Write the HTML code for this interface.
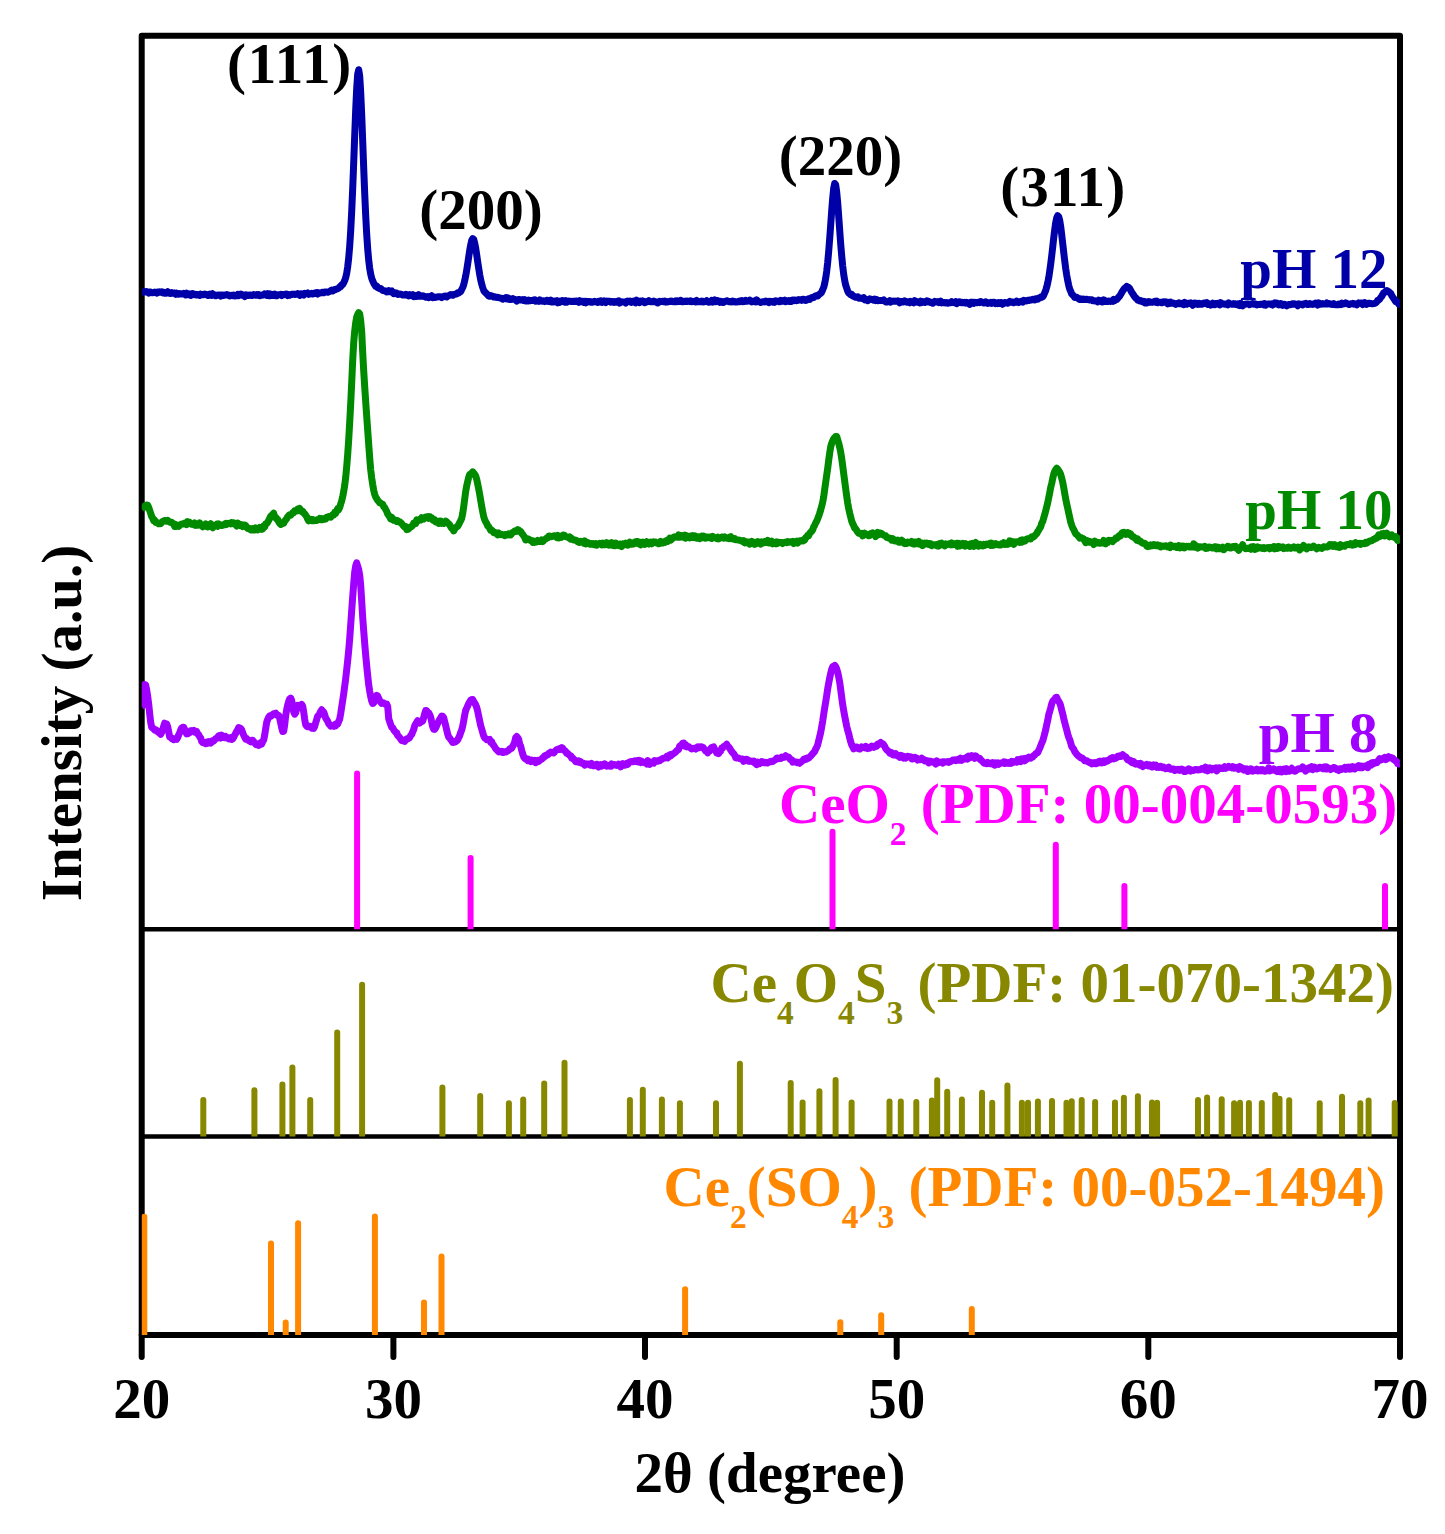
<!DOCTYPE html><html><head><meta charset="utf-8"><style>html,body{margin:0;padding:0;background:#fff;overflow:hidden}svg{display:block}</style></head><body><svg width="1445" height="1534" viewBox="0 0 1445 1534"><defs><clipPath id="c0"><rect x="141.7" y="0" width="1258.3" height="1534"/></clipPath><clipPath id="c1"><rect x="141.7" y="35.8" width="1258.3" height="893.5"/></clipPath><clipPath id="c2"><rect x="141.7" y="929.3" width="1258.3" height="207.2"/></clipPath><clipPath id="c3"><rect x="141.7" y="1136.5" width="1258.3" height="198.5"/></clipPath></defs><rect width="1445" height="1534" fill="#fff"/><rect x="141.7" y="35.8" width="1258.3" height="1299.2" fill="none" stroke="#000" stroke-width="6" stroke-linejoin="round"/><g stroke="#000" stroke-width="6" stroke-linecap="round"><line x1="141.7" y1="1335" x2="141.7" y2="1357"/><line x1="393.4" y1="1335" x2="393.4" y2="1357"/><line x1="645.0" y1="1335" x2="645.0" y2="1357"/><line x1="896.7" y1="1335" x2="896.7" y2="1357"/><line x1="1148.3" y1="1335" x2="1148.3" y2="1357"/><line x1="1400.0" y1="1335" x2="1400.0" y2="1357"/></g><g stroke="#000"><line x1="141.7" y1="929.3" x2="1400" y2="929.3" stroke-width="4.4"/><line x1="141.7" y1="1136.5" x2="1400" y2="1136.5" stroke-width="4.5"/></g><g clip-path="url(#c1)"><g stroke="#FF00FF" stroke-width="6" stroke-linecap="round"><line x1="357.1" y1="773.4" x2="357.1" y2="932.3"/><line x1="470.6" y1="858.0" x2="470.6" y2="932.3"/><line x1="832.5" y1="831.8" x2="832.5" y2="932.3"/><line x1="1055.8" y1="844.8" x2="1055.8" y2="932.3"/><line x1="1124.4" y1="885.9" x2="1124.4" y2="932.3"/><line x1="1385.0" y1="885.9" x2="1385.0" y2="932.3"/></g></g><g clip-path="url(#c2)"><g stroke="#888800" stroke-width="6" stroke-linecap="round"><line x1="203.3" y1="1100.1" x2="203.3" y2="1139.5"/><line x1="254.4" y1="1090.3" x2="254.4" y2="1139.5"/><line x1="282.4" y1="1084.5" x2="282.4" y2="1139.5"/><line x1="292.4" y1="1067.5" x2="292.4" y2="1139.5"/><line x1="310.2" y1="1100.1" x2="310.2" y2="1139.5"/><line x1="337.2" y1="1032.6" x2="337.2" y2="1139.5"/><line x1="362.1" y1="984.8" x2="362.1" y2="1139.5"/><line x1="442.4" y1="1087.6" x2="442.4" y2="1139.5"/><line x1="480.2" y1="1095.9" x2="480.2" y2="1139.5"/><line x1="508.9" y1="1103.2" x2="508.9" y2="1139.5"/><line x1="523.2" y1="1099.5" x2="523.2" y2="1139.5"/><line x1="544.2" y1="1083.5" x2="544.2" y2="1139.5"/><line x1="564.5" y1="1062.7" x2="564.5" y2="1139.5"/><line x1="629.9" y1="1100.1" x2="629.9" y2="1139.5"/><line x1="642.8" y1="1089.7" x2="642.8" y2="1139.5"/><line x1="661.9" y1="1099.5" x2="661.9" y2="1139.5"/><line x1="679.9" y1="1103.2" x2="679.9" y2="1139.5"/><line x1="716.0" y1="1103.2" x2="716.0" y2="1139.5"/><line x1="739.9" y1="1063.8" x2="739.9" y2="1139.5"/><line x1="790.7" y1="1082.9" x2="790.7" y2="1139.5"/><line x1="802.6" y1="1102.6" x2="802.6" y2="1139.5"/><line x1="819.4" y1="1091.2" x2="819.4" y2="1139.5"/><line x1="835.6" y1="1080.0" x2="835.6" y2="1139.5"/><line x1="851.6" y1="1102.6" x2="851.6" y2="1139.5"/><line x1="889.5" y1="1101.5" x2="889.5" y2="1139.5"/><line x1="900.8" y1="1101.5" x2="900.8" y2="1139.5"/><line x1="916.3" y1="1102.1" x2="916.3" y2="1139.5"/><line x1="931.9" y1="1100.6" x2="931.9" y2="1139.5"/><line x1="937.2" y1="1080.2" x2="937.2" y2="1139.5"/><line x1="947.2" y1="1091.7" x2="947.2" y2="1139.5"/><line x1="961.9" y1="1099.5" x2="961.9" y2="1139.5"/><line x1="982.0" y1="1092.7" x2="982.0" y2="1139.5"/><line x1="992.2" y1="1102.7" x2="992.2" y2="1139.5"/><line x1="1007.4" y1="1085.6" x2="1007.4" y2="1139.5"/><line x1="1021.9" y1="1102.7" x2="1021.9" y2="1139.5"/><line x1="1028.0" y1="1102.7" x2="1028.0" y2="1139.5"/><line x1="1037.9" y1="1101.6" x2="1037.9" y2="1139.5"/><line x1="1052.0" y1="1100.9" x2="1052.0" y2="1139.5"/><line x1="1066.5" y1="1102.7" x2="1066.5" y2="1139.5"/><line x1="1071.7" y1="1101.2" x2="1071.7" y2="1139.5"/><line x1="1081.7" y1="1100.1" x2="1081.7" y2="1139.5"/><line x1="1095.1" y1="1101.9" x2="1095.1" y2="1139.5"/><line x1="1115.0" y1="1102.4" x2="1115.0" y2="1139.5"/><line x1="1123.9" y1="1097.8" x2="1123.9" y2="1139.5"/><line x1="1137.9" y1="1096.3" x2="1137.9" y2="1139.5"/><line x1="1152.0" y1="1102.4" x2="1152.0" y2="1139.5"/><line x1="1157.1" y1="1102.8" x2="1157.1" y2="1139.5"/><line x1="1198.0" y1="1099.9" x2="1198.0" y2="1139.5"/><line x1="1207.1" y1="1097.4" x2="1207.1" y2="1139.5"/><line x1="1221.7" y1="1099.2" x2="1221.7" y2="1139.5"/><line x1="1234.1" y1="1103.2" x2="1234.1" y2="1139.5"/><line x1="1240.0" y1="1102.7" x2="1240.0" y2="1139.5"/><line x1="1248.9" y1="1103.0" x2="1248.9" y2="1139.5"/><line x1="1261.8" y1="1103.0" x2="1261.8" y2="1139.5"/><line x1="1275.2" y1="1095.0" x2="1275.2" y2="1139.5"/><line x1="1279.5" y1="1098.7" x2="1279.5" y2="1139.5"/><line x1="1289.2" y1="1100.3" x2="1289.2" y2="1139.5"/><line x1="1319.7" y1="1103.2" x2="1319.7" y2="1139.5"/><line x1="1342.0" y1="1096.8" x2="1342.0" y2="1139.5"/><line x1="1360.3" y1="1103.2" x2="1360.3" y2="1139.5"/><line x1="1368.6" y1="1100.6" x2="1368.6" y2="1139.5"/><line x1="1394.7" y1="1103.0" x2="1394.7" y2="1139.5"/></g></g><g clip-path="url(#c3)"><g stroke="#FF8800" stroke-width="6" stroke-linecap="round"><line x1="144.3" y1="1216.7" x2="144.3" y2="1338.0"/><line x1="271.0" y1="1243.4" x2="271.0" y2="1338.0"/><line x1="285.7" y1="1322.6" x2="285.7" y2="1338.0"/><line x1="298.1" y1="1223.3" x2="298.1" y2="1338.0"/><line x1="374.9" y1="1216.5" x2="374.9" y2="1338.0"/><line x1="424.0" y1="1302.5" x2="424.0" y2="1338.0"/><line x1="441.5" y1="1256.5" x2="441.5" y2="1338.0"/><line x1="685.1" y1="1289.2" x2="685.1" y2="1338.0"/><line x1="840.3" y1="1322.3" x2="840.3" y2="1338.0"/><line x1="881.2" y1="1315.3" x2="881.2" y2="1338.0"/><line x1="971.8" y1="1309.1" x2="971.8" y2="1338.0"/></g></g><g clip-path="url(#c0)" fill="none" stroke-width="7" stroke-linejoin="round" stroke-linecap="butt"><path stroke="#0000A8" d="M141.7,291.9L142.7,292.1 143.7,291.9 144.7,291.5 145.7,291.9 146.7,291.6 147.7,292.3 148.7,293.1 149.7,292.1 150.7,292.0 151.7,292.7 152.7,292.7 153.7,292.6 154.7,292.1 155.7,292.6 156.7,293.1 157.7,292.0 158.7,292.5 159.7,291.8 160.7,292.2 161.7,291.9 162.7,292.9 163.7,292.3 164.7,293.3 165.7,293.3 166.7,293.1 167.7,291.8 168.7,293.0 169.7,293.3 170.7,293.5 171.7,292.6 172.7,293.2 173.7,293.0 174.7,293.1 175.7,294.3 176.7,293.2 177.7,293.7 178.7,294.3 179.7,293.5 180.7,293.8 181.7,294.0 182.7,294.0 183.7,293.3 184.7,294.1 185.7,294.9 186.7,293.2 187.7,294.7 188.7,294.3 189.7,293.9 190.7,295.4 191.7,294.8 192.7,293.6 193.7,294.4 194.7,294.8 195.7,294.3 196.7,294.9 197.7,294.5 198.7,295.0 199.7,295.4 200.7,294.2 201.7,294.8 202.7,294.4 203.7,294.8 204.7,294.0 205.7,294.4 206.7,294.7 207.7,295.4 208.7,295.5 209.7,294.1 210.7,294.4 211.7,295.3 212.7,293.8 213.7,294.7 214.7,294.9 215.7,295.8 216.7,295.5 217.7,294.9 218.7,294.9 219.7,295.0 220.7,296.0 221.7,294.9 222.7,295.0 223.7,295.4 224.7,295.1 225.7,295.1 226.7,294.5 227.7,295.2 228.7,295.0 229.7,295.9 230.7,295.6 231.7,295.2 232.7,295.7 233.7,295.1 234.7,295.9 235.7,295.3 236.7,295.6 237.7,294.5 238.7,295.5 239.7,294.3 240.7,294.1 241.7,295.1 242.7,294.7 243.7,295.4 244.7,296.6 245.7,294.8 246.7,294.9 247.7,295.4 248.7,295.5 249.7,295.1 250.7,295.1 251.7,295.6 252.7,295.5 253.7,294.6 254.7,295.1 255.7,295.2 256.7,294.6 257.7,295.3 258.7,294.7 259.7,295.7 260.7,295.3 261.7,295.2 262.7,294.8 263.7,295.0 264.7,293.9 265.7,294.4 266.7,295.3 267.7,293.8 268.7,295.6 269.7,294.0 270.7,295.5 271.7,294.5 272.7,295.5 273.7,295.1 274.7,294.1 275.7,295.7 276.7,295.8 277.7,294.9 278.7,294.7 279.7,294.8 280.7,294.3 281.7,295.5 282.7,294.5 283.7,294.8 284.7,294.3 285.7,294.4 286.7,294.0 287.7,295.5 288.7,294.6 289.7,295.2 290.7,294.6 291.7,294.2 292.7,294.4 293.7,294.2 294.7,294.5 295.7,294.3 296.7,294.3 297.7,293.6 298.7,293.9 299.7,295.3 300.7,293.9 301.7,293.7 302.7,294.4 303.7,295.0 304.7,293.3 305.7,294.0 306.7,293.7 307.7,293.0 308.7,294.3 309.7,293.8 310.7,293.8 311.7,293.3 312.7,293.9 313.7,293.3 314.7,293.4 315.7,292.8 316.7,292.6 317.7,294.0 318.7,292.8 319.7,293.1 320.7,292.8 321.7,292.5 322.7,292.3 323.7,292.8 324.7,292.1 325.7,292.0 326.7,291.9 327.7,292.3 328.7,291.8 329.7,291.5 330.7,290.7 331.7,290.0 332.7,290.9 333.7,290.5 334.7,289.6 335.7,289.5 336.7,289.1 337.7,288.6 338.7,288.1 339.7,286.8 340.7,286.8 341.7,284.8 342.7,284.4 343.7,282.7 344.7,280.6 345.7,277.7 346.7,273.2 347.7,266.7 348.7,258.0 349.7,246.3 350.7,230.8 351.7,211.4 352.7,188.4 353.7,162.6 354.7,135.6 355.7,109.9 356.7,88.3 357.7,74.0 358.7,69.7 359.7,76.1 360.7,92.1 361.7,114.9 362.7,141.1 363.7,168.0 364.7,193.4 365.7,215.7 366.7,234.3 367.7,249.0 368.7,260.2 369.7,268.3 370.7,274.1 371.7,278.3 372.7,280.9 373.7,283.2 374.7,284.7 375.7,286.4 376.7,286.1 377.7,287.8 378.7,288.0 379.7,288.7 380.7,288.5 381.7,289.5 382.7,290.4 383.7,290.4 384.7,290.9 385.7,291.0 386.7,292.0 387.7,291.7 388.7,290.8 389.7,291.8 390.7,291.4 391.7,290.9 392.7,292.6 393.7,293.7 394.7,293.3 395.7,292.8 396.7,293.1 397.7,294.4 398.7,294.0 399.7,294.1 400.7,294.2 401.7,294.4 402.7,295.0 403.7,295.0 404.7,294.9 405.7,294.3 406.7,295.3 407.7,294.8 408.7,295.9 409.7,294.6 410.7,295.3 411.7,295.5 412.7,294.8 413.7,296.7 414.7,296.6 415.7,295.6 416.7,296.4 417.7,296.2 418.7,294.6 419.7,296.3 420.7,296.2 421.7,296.3 422.7,295.7 423.7,296.2 424.7,296.4 425.7,297.2 426.7,296.8 427.7,296.6 428.7,297.6 429.7,296.4 430.7,296.5 431.7,295.7 432.7,297.7 433.7,297.4 434.7,297.4 435.7,297.3 436.7,296.9 437.7,297.0 438.7,296.7 439.7,296.7 440.7,296.9 441.7,297.6 442.7,297.0 443.7,296.5 444.7,296.1 445.7,295.9 446.7,296.9 447.7,296.1 448.7,295.7 449.7,295.2 450.7,294.6 451.7,295.0 452.7,295.3 453.7,294.4 454.7,294.3 455.7,294.1 456.7,294.0 457.7,292.8 458.7,293.0 459.7,292.0 460.7,291.5 461.7,289.4 462.7,287.6 463.7,284.8 464.7,280.6 465.7,275.8 466.7,270.2 467.7,263.8 468.7,257.0 469.7,250.5 470.7,245.0 471.7,240.5 472.7,238.6 473.7,239.3 474.7,243.1 475.7,248.2 476.7,254.7 477.7,261.8 478.7,268.3 479.7,274.6 480.7,279.9 481.7,284.1 482.7,287.5 483.7,290.5 484.7,291.8 485.7,293.0 486.7,293.7 487.7,294.9 488.7,296.1 489.7,296.3 490.7,295.6 491.7,295.9 492.7,296.3 493.7,296.9 494.7,296.8 495.7,297.2 496.7,297.4 497.7,297.3 498.7,297.6 499.7,297.9 500.7,297.9 501.7,298.3 502.7,299.2 503.7,298.6 504.7,298.5 505.7,297.7 506.7,298.9 507.7,297.8 508.7,298.2 509.7,299.6 510.7,299.6 511.7,299.2 512.7,298.5 513.7,299.3 514.7,299.3 515.7,300.1 516.7,301.1 517.7,300.0 518.7,299.5 519.7,299.4 520.7,300.1 521.7,300.1 522.7,299.6 523.7,300.4 524.7,299.7 525.7,301.0 526.7,301.0 527.7,301.1 528.7,300.2 529.7,300.8 530.7,300.5 531.7,300.4 532.7,300.4 533.7,299.9 534.7,299.8 535.7,301.2 536.7,300.6 537.7,300.9 538.7,301.4 539.7,299.8 540.7,300.4 541.7,301.0 542.7,301.2 543.7,300.8 544.7,301.6 545.7,301.2 546.7,300.3 547.7,300.5 548.7,301.6 549.7,301.4 550.7,300.1 551.7,302.0 552.7,301.6 553.7,302.0 554.7,301.0 555.7,301.1 556.7,300.7 557.7,302.8 558.7,301.3 559.7,302.3 560.7,301.0 561.7,301.5 562.7,300.5 563.7,301.2 564.7,302.1 565.7,300.8 566.7,302.2 567.7,301.8 568.7,301.0 569.7,301.3 570.7,301.3 571.7,301.6 572.7,301.3 573.7,301.2 574.7,301.5 575.7,301.1 576.7,300.9 577.7,301.7 578.7,302.3 579.7,300.8 580.7,301.8 581.7,301.4 582.7,301.2 583.7,302.3 584.7,301.5 585.7,302.7 586.7,301.4 587.7,302.1 588.7,301.7 589.7,301.4 590.7,302.2 591.7,301.8 592.7,302.2 593.7,301.9 594.7,301.2 595.7,301.8 596.7,301.9 597.7,302.5 598.7,301.4 599.7,301.9 600.7,300.9 601.7,302.3 602.7,301.3 603.7,300.9 604.7,301.9 605.7,302.6 606.7,301.0 607.7,301.3 608.7,301.5 609.7,301.3 610.7,302.2 611.7,301.5 612.7,301.5 613.7,302.3 614.7,301.5 615.7,302.2 616.7,301.4 617.7,301.2 618.7,300.8 619.7,303.0 620.7,301.7 621.7,302.1 622.7,301.9 623.7,302.0 624.7,301.9 625.7,303.1 626.7,301.3 627.7,301.0 628.7,301.3 629.7,301.1 630.7,302.3 631.7,302.4 632.7,301.3 633.7,301.1 634.7,301.7 635.7,302.7 636.7,300.2 637.7,302.2 638.7,301.2 639.7,302.5 640.7,301.2 641.7,301.7 642.7,300.9 643.7,301.3 644.7,302.7 645.7,302.3 646.7,301.6 647.7,301.3 648.7,300.7 649.7,301.6 650.7,301.8 651.7,301.7 652.7,301.7 653.7,301.1 654.7,301.7 655.7,301.8 656.7,302.5 657.7,302.9 658.7,301.7 659.7,301.3 660.7,301.7 661.7,301.4 662.7,301.3 663.7,301.7 664.7,301.1 665.7,302.1 666.7,301.6 667.7,301.9 668.7,301.6 669.7,301.3 670.7,301.1 671.7,301.5 672.7,301.3 673.7,301.8 674.7,301.7 675.7,300.8 676.7,301.7 677.7,300.8 678.7,301.3 679.7,301.5 680.7,300.4 681.7,301.7 682.7,301.7 683.7,301.5 684.7,301.3 685.7,301.4 686.7,301.0 687.7,301.4 688.7,301.2 689.7,301.6 690.7,300.8 691.7,301.7 692.7,301.6 693.7,301.5 694.7,301.3 695.7,301.9 696.7,300.5 697.7,301.8 698.7,301.7 699.7,301.7 700.7,301.7 701.7,301.1 702.7,301.3 703.7,301.9 704.7,301.7 705.7,301.6 706.7,300.6 707.7,301.8 708.7,302.2 709.7,302.1 710.7,301.6 711.7,300.5 712.7,302.0 713.7,301.4 714.7,299.9 715.7,301.7 716.7,300.5 717.7,300.7 718.7,301.0 719.7,302.2 720.7,301.2 721.7,301.6 722.7,302.5 723.7,302.4 724.7,301.4 725.7,301.3 726.7,300.7 727.7,301.0 728.7,301.7 729.7,301.7 730.7,301.5 731.7,302.0 732.7,301.0 733.7,301.4 734.7,301.9 735.7,301.8 736.7,302.1 737.7,301.7 738.7,301.3 739.7,301.7 740.7,300.8 741.7,300.5 742.7,301.8 743.7,301.4 744.7,301.6 745.7,300.5 746.7,301.3 747.7,301.1 748.7,301.0 749.7,300.1 750.7,301.3 751.7,302.0 752.7,301.7 753.7,301.1 754.7,301.5 755.7,301.9 756.7,299.8 757.7,301.4 758.7,301.8 759.7,301.9 760.7,302.5 761.7,302.2 762.7,301.7 763.7,301.7 764.7,301.9 765.7,301.1 766.7,301.4 767.7,302.0 768.7,302.6 769.7,301.3 770.7,301.4 771.7,301.5 772.7,302.2 773.7,301.3 774.7,302.2 775.7,300.8 776.7,301.2 777.7,301.2 778.7,301.7 779.7,301.8 780.7,300.3 781.7,300.6 782.7,301.3 783.7,300.7 784.7,300.2 785.7,301.6 786.7,301.3 787.7,301.2 788.7,300.6 789.7,301.4 790.7,300.6 791.7,301.3 792.7,300.1 793.7,300.1 794.7,300.6 795.7,300.0 796.7,300.7 797.7,300.4 798.7,299.6 799.7,300.1 800.7,299.7 801.7,300.3 802.7,299.3 803.7,299.3 804.7,300.1 805.7,300.5 806.7,300.2 807.7,298.9 808.7,298.8 809.7,299.3 810.7,298.2 811.7,297.5 812.7,297.7 813.7,297.6 814.7,296.6 815.7,295.8 816.7,295.5 817.7,295.9 818.7,294.7 819.7,294.1 820.7,293.3 821.7,292.0 822.7,289.8 823.7,287.3 824.7,283.3 825.7,278.2 826.7,271.2 827.7,262.4 828.7,251.3 829.7,238.5 830.7,224.7 831.7,210.7 832.7,198.1 833.7,188.3 834.7,183.5 835.7,184.9 836.7,192.0 837.7,202.8 838.7,216.2 839.7,230.3 840.7,244.0 841.7,255.9 842.7,266.1 843.7,274.4 844.7,280.5 845.7,285.2 846.7,288.2 847.7,291.2 848.7,292.9 849.7,293.7 850.7,294.7 851.7,294.3 852.7,296.0 853.7,296.1 854.7,296.8 855.7,297.3 856.7,297.2 857.7,296.8 858.7,298.1 859.7,297.8 860.7,298.2 861.7,298.3 862.7,298.6 863.7,297.7 864.7,299.8 865.7,299.4 866.7,300.1 867.7,300.7 868.7,299.7 869.7,298.8 870.7,299.4 871.7,299.3 872.7,299.8 873.7,300.2 874.7,299.1 875.7,300.5 876.7,299.6 877.7,300.7 878.7,300.5 879.7,300.4 880.7,300.6 881.7,300.4 882.7,300.4 883.7,299.9 884.7,300.9 885.7,302.0 886.7,302.1 887.7,301.8 888.7,301.5 889.7,300.7 890.7,302.0 891.7,301.2 892.7,301.2 893.7,301.1 894.7,301.3 895.7,301.1 896.7,301.3 897.7,300.8 898.7,301.2 899.7,302.8 900.7,301.4 901.7,301.4 902.7,301.9 903.7,302.0 904.7,300.9 905.7,301.5 906.7,302.2 907.7,301.8 908.7,301.8 909.7,302.7 910.7,301.4 911.7,301.8 912.7,301.5 913.7,302.7 914.7,300.7 915.7,301.5 916.7,301.6 917.7,302.3 918.7,302.3 919.7,302.8 920.7,301.1 921.7,302.5 922.7,301.9 923.7,301.7 924.7,302.4 925.7,301.6 926.7,300.9 927.7,301.9 928.7,301.3 929.7,301.8 930.7,302.4 931.7,302.4 932.7,303.2 933.7,302.2 934.7,301.4 935.7,301.9 936.7,301.8 937.7,301.6 938.7,302.6 939.7,302.0 940.7,301.2 941.7,302.8 942.7,302.4 943.7,302.7 944.7,302.5 945.7,302.9 946.7,302.5 947.7,303.3 948.7,302.8 949.7,302.8 950.7,302.8 951.7,301.7 952.7,302.5 953.7,302.5 954.7,302.7 955.7,301.8 956.7,303.6 957.7,302.7 958.7,302.0 959.7,301.7 960.7,302.5 961.7,302.7 962.7,302.3 963.7,302.8 964.7,302.4 965.7,303.1 966.7,302.3 967.7,302.8 968.7,303.4 969.7,304.3 970.7,302.2 971.7,302.5 972.7,302.3 973.7,303.3 974.7,302.2 975.7,302.6 976.7,302.8 977.7,302.3 978.7,302.3 979.7,302.6 980.7,301.6 981.7,302.0 982.7,302.6 983.7,303.0 984.7,302.8 985.7,301.8 986.7,302.6 987.7,303.4 988.7,303.2 989.7,302.9 990.7,302.4 991.7,303.3 992.7,302.5 993.7,302.2 994.7,302.4 995.7,303.7 996.7,303.0 997.7,303.6 998.7,302.6 999.7,303.4 1000.7,302.5 1001.7,302.7 1002.7,304.2 1003.7,303.2 1004.7,302.4 1005.7,302.6 1006.7,302.8 1007.7,303.2 1008.7,302.2 1009.7,301.4 1010.7,302.1 1011.7,302.2 1012.7,302.1 1013.7,302.7 1014.7,302.1 1015.7,302.2 1016.7,301.1 1017.7,302.0 1018.7,302.6 1019.7,301.8 1020.7,301.4 1021.7,301.2 1022.7,302.0 1023.7,300.4 1024.7,300.7 1025.7,300.9 1026.7,300.9 1027.7,300.2 1028.7,300.5 1029.7,300.0 1030.7,300.1 1031.7,299.8 1032.7,299.2 1033.7,299.6 1034.7,299.9 1035.7,298.8 1036.7,298.9 1037.7,299.2 1038.7,298.0 1039.7,298.2 1040.7,297.1 1041.7,297.3 1042.7,296.7 1043.7,295.2 1044.7,292.7 1045.7,290.5 1046.7,287.1 1047.7,282.9 1048.7,277.9 1049.7,271.2 1050.7,264.1 1051.7,255.8 1052.7,247.2 1053.7,238.2 1054.7,229.8 1055.7,222.8 1056.7,217.9 1057.7,215.6 1058.7,216.6 1059.7,220.4 1060.7,226.5 1061.7,234.7 1062.7,243.4 1063.7,252.2 1064.7,260.7 1065.7,268.5 1066.7,275.0 1067.7,280.6 1068.7,285.3 1069.7,289.1 1070.7,291.3 1071.7,294.0 1072.7,294.9 1073.7,295.8 1074.7,297.5 1075.7,297.5 1076.7,297.3 1077.7,298.1 1078.7,299.0 1079.7,299.4 1080.7,298.7 1081.7,299.3 1082.7,299.6 1083.7,299.0 1084.7,299.6 1085.7,299.5 1086.7,299.3 1087.7,299.4 1088.7,299.8 1089.7,299.9 1090.7,299.7 1091.7,299.8 1092.7,300.8 1093.7,300.4 1094.7,300.8 1095.7,301.1 1096.7,300.8 1097.7,301.9 1098.7,300.2 1099.7,301.2 1100.7,300.6 1101.7,301.9 1102.7,301.9 1103.7,299.8 1104.7,300.4 1105.7,301.4 1106.7,301.5 1107.7,301.5 1108.7,301.0 1109.7,301.3 1110.7,301.4 1111.7,300.9 1112.7,301.3 1113.7,299.4 1114.7,300.6 1115.7,299.4 1116.7,299.6 1117.7,298.3 1118.7,297.0 1119.7,296.2 1120.7,294.3 1121.7,292.7 1122.7,290.8 1123.7,289.5 1124.7,288.2 1125.7,287.4 1126.7,286.4 1127.7,287.1 1128.7,287.4 1129.7,288.6 1130.7,290.4 1131.7,292.3 1132.7,293.7 1133.7,295.3 1134.7,296.8 1135.7,298.0 1136.7,298.6 1137.7,300.2 1138.7,300.2 1139.7,301.0 1140.7,300.6 1141.7,301.5 1142.7,301.7 1143.7,301.4 1144.7,302.8 1145.7,302.0 1146.7,302.9 1147.7,302.5 1148.7,301.6 1149.7,301.8 1150.7,302.3 1151.7,302.2 1152.7,302.2 1153.7,302.1 1154.7,301.3 1155.7,302.2 1156.7,301.1 1157.7,302.7 1158.7,302.1 1159.7,302.2 1160.7,302.5 1161.7,302.8 1162.7,301.9 1163.7,301.8 1164.7,302.2 1165.7,301.7 1166.7,302.4 1167.7,303.9 1168.7,302.4 1169.7,303.4 1170.7,302.3 1171.7,303.3 1172.7,303.0 1173.7,303.2 1174.7,303.6 1175.7,304.3 1176.7,303.5 1177.7,303.5 1178.7,302.9 1179.7,303.8 1180.7,303.3 1181.7,304.0 1182.7,303.5 1183.7,304.6 1184.7,302.4 1185.7,303.4 1186.7,304.2 1187.7,303.4 1188.7,303.2 1189.7,303.5 1190.7,302.9 1191.7,303.8 1192.7,305.2 1193.7,304.4 1194.7,303.1 1195.7,303.2 1196.7,303.5 1197.7,304.4 1198.7,303.3 1199.7,303.4 1200.7,304.3 1201.7,304.3 1202.7,303.6 1203.7,303.2 1204.7,302.9 1205.7,303.5 1206.7,302.6 1207.7,304.4 1208.7,303.5 1209.7,304.2 1210.7,305.1 1211.7,304.6 1212.7,303.3 1213.7,304.5 1214.7,304.7 1215.7,303.5 1216.7,303.4 1217.7,303.9 1218.7,303.1 1219.7,304.9 1220.7,302.6 1221.7,303.4 1222.7,303.9 1223.7,303.9 1224.7,304.2 1225.7,304.2 1226.7,304.0 1227.7,304.8 1228.7,302.8 1229.7,304.1 1230.7,303.7 1231.7,304.2 1232.7,304.3 1233.7,303.6 1234.7,303.8 1235.7,304.6 1236.7,304.4 1237.7,303.8 1238.7,305.4 1239.7,305.6 1240.7,303.3 1241.7,304.4 1242.7,305.7 1243.7,304.7 1244.7,304.4 1245.7,304.1 1246.7,303.9 1247.7,304.1 1248.7,303.9 1249.7,304.7 1250.7,304.0 1251.7,304.0 1252.7,303.5 1253.7,304.2 1254.7,303.7 1255.7,304.2 1256.7,304.9 1257.7,304.5 1258.7,304.6 1259.7,304.5 1260.7,304.3 1261.7,304.2 1262.7,304.1 1263.7,304.8 1264.7,303.7 1265.7,305.1 1266.7,304.3 1267.7,303.9 1268.7,304.0 1269.7,303.9 1270.7,304.4 1271.7,303.9 1272.7,305.0 1273.7,303.9 1274.7,303.0 1275.7,303.9 1276.7,303.1 1277.7,304.3 1278.7,305.0 1279.7,304.7 1280.7,303.5 1281.7,303.9 1282.7,305.4 1283.7,304.5 1284.7,304.3 1285.7,305.0 1286.7,305.8 1287.7,305.1 1288.7,304.4 1289.7,304.5 1290.7,304.7 1291.7,304.0 1292.7,303.7 1293.7,304.3 1294.7,303.7 1295.7,304.3 1296.7,304.4 1297.7,305.7 1298.7,303.8 1299.7,304.2 1300.7,304.2 1301.7,304.5 1302.7,304.9 1303.7,304.0 1304.7,303.8 1305.7,303.3 1306.7,303.7 1307.7,304.6 1308.7,304.3 1309.7,303.6 1310.7,304.0 1311.7,304.2 1312.7,304.5 1313.7,303.8 1314.7,304.0 1315.7,303.1 1316.7,303.5 1317.7,305.1 1318.7,302.9 1319.7,304.0 1320.7,304.3 1321.7,303.9 1322.7,303.6 1323.7,304.1 1324.7,304.1 1325.7,304.1 1326.7,303.0 1327.7,304.0 1328.7,303.6 1329.7,303.7 1330.7,304.2 1331.7,304.4 1332.7,304.6 1333.7,303.7 1334.7,304.6 1335.7,304.7 1336.7,304.7 1337.7,304.8 1338.7,303.9 1339.7,303.9 1340.7,304.5 1341.7,303.2 1342.7,304.1 1343.7,303.6 1344.7,303.7 1345.7,302.9 1346.7,303.4 1347.7,303.9 1348.7,304.4 1349.7,304.5 1350.7,303.8 1351.7,303.8 1352.7,303.4 1353.7,304.1 1354.7,303.7 1355.7,304.2 1356.7,304.9 1357.7,303.8 1358.7,302.9 1359.7,303.3 1360.7,302.9 1361.7,303.0 1362.7,304.5 1363.7,303.8 1364.7,302.8 1365.7,304.0 1366.7,304.4 1367.7,303.4 1368.7,303.2 1369.7,303.3 1370.7,303.6 1371.7,303.7 1372.7,303.8 1373.7,303.6 1374.7,303.3 1375.7,302.9 1376.7,302.0 1377.7,300.4 1378.7,300.1 1379.7,299.1 1380.7,297.5 1381.7,296.4 1382.7,294.5 1383.7,292.8 1384.7,292.3 1385.7,291.2 1386.7,290.6 1387.7,291.0 1388.7,291.7 1389.7,292.6 1390.7,293.3 1391.7,295.4 1392.7,297.1 1393.7,298.4 1394.7,300.1 1395.7,301.6 1396.7,301.9 1397.7,302.3 1398.7,304.2 1399.7,303.5"/><path stroke="#008A00" d="M141.7,509.5L142.7,508.2 143.7,507.4 144.7,505.9 145.7,506.4 146.7,505.1 147.7,505.2 148.7,507.4 149.7,510.5 150.7,513.4 151.7,516.6 152.7,518.2 153.7,520.9 154.7,520.3 155.7,522.4 156.7,522.4 157.7,522.9 158.7,523.8 159.7,523.8 160.7,523.6 161.7,522.5 162.7,521.3 163.7,520.8 164.7,521.0 165.7,520.6 166.7,521.2 167.7,520.4 168.7,521.3 169.7,522.2 170.7,522.3 171.7,522.3 172.7,523.4 173.7,523.9 174.7,526.4 175.7,524.5 176.7,526.3 177.7,525.6 178.7,526.3 179.7,525.5 180.7,524.4 181.7,524.1 182.7,524.0 183.7,523.9 184.7,523.1 185.7,523.3 186.7,524.6 187.7,521.7 188.7,523.4 189.7,522.5 190.7,523.6 191.7,524.3 192.7,523.7 193.7,524.6 194.7,522.9 195.7,525.3 196.7,524.1 197.7,525.3 198.7,525.1 199.7,523.0 200.7,524.6 201.7,525.5 202.7,526.7 203.7,525.6 204.7,525.5 205.7,524.0 206.7,526.6 207.7,526.9 208.7,525.3 209.7,525.1 210.7,523.8 211.7,526.1 212.7,527.7 213.7,525.9 214.7,526.4 215.7,525.7 216.7,524.3 217.7,526.3 218.7,524.0 219.7,524.8 220.7,525.2 221.7,525.6 222.7,525.1 223.7,525.0 224.7,524.0 225.7,523.4 226.7,524.5 227.7,523.8 228.7,523.2 229.7,523.2 230.7,523.8 231.7,522.6 232.7,523.0 233.7,522.7 234.7,524.4 235.7,524.6 236.7,526.0 237.7,523.1 238.7,523.9 239.7,525.4 240.7,524.6 241.7,524.7 242.7,526.5 243.7,525.0 244.7,524.9 245.7,525.6 246.7,527.5 247.7,528.4 248.7,528.1 249.7,528.6 250.7,529.9 251.7,529.9 252.7,528.8 253.7,530.0 254.7,529.9 255.7,527.8 256.7,529.1 257.7,529.8 258.7,528.9 259.7,527.5 260.7,529.2 261.7,529.4 262.7,528.9 263.7,525.8 264.7,526.9 265.7,523.8 266.7,523.5 267.7,522.2 268.7,520.4 269.7,518.3 270.7,516.1 271.7,515.8 272.7,514.3 273.7,513.3 274.7,517.4 275.7,517.3 276.7,519.1 277.7,519.4 278.7,521.9 279.7,523.4 280.7,524.5 281.7,524.1 282.7,523.2 283.7,523.3 284.7,521.1 285.7,519.8 286.7,518.8 287.7,516.6 288.7,515.6 289.7,514.7 290.7,515.2 291.7,514.1 292.7,512.6 293.7,512.7 294.7,510.8 295.7,510.6 296.7,511.0 297.7,509.1 298.7,509.6 299.7,508.5 300.7,510.0 301.7,511.5 302.7,511.2 303.7,513.0 304.7,513.9 305.7,515.3 306.7,516.7 307.7,519.2 308.7,520.8 309.7,520.3 310.7,519.4 311.7,520.6 312.7,519.7 313.7,520.7 314.7,520.3 315.7,520.3 316.7,520.5 317.7,519.5 318.7,519.6 319.7,518.5 320.7,519.6 321.7,518.7 322.7,519.6 323.7,518.8 324.7,519.2 325.7,519.1 326.7,517.3 327.7,517.2 328.7,516.6 329.7,517.1 330.7,517.2 331.7,516.0 332.7,514.6 333.7,515.0 334.7,512.4 335.7,513.2 336.7,510.9 337.7,508.7 338.7,509.7 339.7,507.4 340.7,504.0 341.7,500.9 342.7,496.5 343.7,491.5 344.7,485.4 345.7,477.3 346.7,466.7 347.7,454.4 348.7,439.7 349.7,422.2 350.7,403.9 351.7,382.7 352.7,360.4 353.7,342.6 354.7,331.1 355.7,322.6 356.7,317.1 357.7,314.5 358.7,312.6 359.7,313.9 360.7,320.7 361.7,331.7 362.7,352.5 363.7,370.7 364.7,386.7 365.7,401.8 366.7,416.2 367.7,430.2 368.7,444.3 369.7,458.0 370.7,469.8 371.7,478.0 372.7,484.6 373.7,490.2 374.7,494.4 375.7,497.1 376.7,498.7 377.7,500.3 378.7,501.4 379.7,502.9 380.7,503.1 381.7,504.0 382.7,504.2 383.7,506.8 384.7,507.4 385.7,509.6 386.7,511.4 387.7,514.1 388.7,515.3 389.7,516.9 390.7,518.9 391.7,517.2 392.7,519.4 393.7,520.3 394.7,519.9 395.7,520.6 396.7,521.4 397.7,520.6 398.7,521.9 399.7,521.7 400.7,522.7 401.7,523.6 402.7,524.9 403.7,526.1 404.7,527.2 405.7,526.7 406.7,529.6 407.7,529.4 408.7,528.8 409.7,527.5 410.7,527.0 411.7,526.4 412.7,525.3 413.7,523.1 414.7,523.3 415.7,523.5 416.7,519.8 417.7,520.9 418.7,520.1 419.7,519.3 420.7,519.9 421.7,517.7 422.7,518.3 423.7,519.0 424.7,517.4 425.7,517.0 426.7,517.2 427.7,516.6 428.7,518.3 429.7,516.6 430.7,518.4 431.7,517.9 432.7,520.0 433.7,520.4 434.7,519.6 435.7,521.8 436.7,521.1 437.7,521.6 438.7,523.4 439.7,521.0 440.7,521.0 441.7,523.3 442.7,522.1 443.7,523.4 444.7,522.3 445.7,521.2 446.7,521.9 447.7,523.0 448.7,523.8 449.7,524.9 450.7,526.7 451.7,528.2 452.7,528.8 453.7,530.9 454.7,528.9 455.7,527.5 456.7,526.9 457.7,526.3 458.7,524.6 459.7,522.5 460.7,520.4 461.7,518.4 462.7,513.5 463.7,506.7 464.7,499.1 465.7,491.4 466.7,485.8 467.7,481.5 468.7,477.3 469.7,474.4 470.7,474.5 471.7,473.0 472.7,471.9 473.7,473.0 474.7,474.3 475.7,476.0 476.7,479.3 477.7,483.9 478.7,488.9 479.7,494.5 480.7,500.3 481.7,506.3 482.7,511.7 483.7,516.6 484.7,519.6 485.7,521.9 486.7,523.4 487.7,525.9 488.7,526.6 489.7,528.4 490.7,530.3 491.7,530.1 492.7,531.0 493.7,532.6 494.7,532.3 495.7,532.9 496.7,533.8 497.7,534.9 498.7,533.0 499.7,534.3 500.7,534.4 501.7,534.5 502.7,534.7 503.7,534.7 504.7,535.6 505.7,534.5 506.7,535.0 507.7,534.9 508.7,533.8 509.7,534.1 510.7,534.9 511.7,533.5 512.7,532.4 513.7,532.3 514.7,531.1 515.7,531.4 516.7,531.3 517.7,529.7 518.7,530.1 519.7,531.4 520.7,531.5 521.7,533.3 522.7,534.4 523.7,536.0 524.7,537.4 525.7,539.9 526.7,538.6 527.7,538.9 528.7,539.2 529.7,539.8 530.7,540.7 531.7,540.6 532.7,542.4 533.7,541.1 534.7,542.3 535.7,541.6 536.7,542.0 537.7,540.4 538.7,541.5 539.7,541.6 540.7,541.5 541.7,539.9 542.7,541.6 543.7,540.2 544.7,539.5 545.7,538.9 546.7,538.1 547.7,537.9 548.7,536.2 549.7,536.0 550.7,536.7 551.7,536.6 552.7,536.2 553.7,536.0 554.7,535.7 555.7,536.4 556.7,537.6 557.7,535.5 558.7,537.9 559.7,537.3 560.7,536.1 561.7,537.2 562.7,535.2 563.7,535.0 564.7,535.6 565.7,536.5 566.7,536.9 567.7,537.1 568.7,538.0 569.7,536.9 570.7,539.2 571.7,538.4 572.7,539.4 573.7,540.0 574.7,539.9 575.7,540.1 576.7,540.7 577.7,541.7 578.7,542.3 579.7,542.5 580.7,541.4 581.7,541.7 582.7,541.7 583.7,543.0 584.7,541.0 585.7,543.9 586.7,542.5 587.7,542.4 588.7,543.4 589.7,544.1 590.7,543.6 591.7,544.3 592.7,543.6 593.7,544.7 594.7,544.7 595.7,543.7 596.7,545.1 597.7,544.0 598.7,544.0 599.7,543.2 600.7,543.8 601.7,544.8 602.7,543.1 603.7,544.8 604.7,544.7 605.7,544.7 606.7,542.6 607.7,544.4 608.7,545.1 609.7,544.0 610.7,544.7 611.7,542.6 612.7,545.3 613.7,544.2 614.7,545.6 615.7,543.1 616.7,545.4 617.7,544.6 618.7,545.5 619.7,543.9 620.7,544.1 621.7,546.5 622.7,543.8 623.7,543.7 624.7,544.0 625.7,543.2 626.7,544.9 627.7,545.2 628.7,543.1 629.7,542.1 630.7,544.3 631.7,544.2 632.7,543.8 633.7,544.0 634.7,542.2 635.7,542.7 636.7,541.6 637.7,541.5 638.7,543.7 639.7,542.2 640.7,544.9 641.7,542.9 642.7,542.2 643.7,543.5 644.7,544.4 645.7,543.2 646.7,541.7 647.7,543.1 648.7,544.0 649.7,542.4 650.7,542.1 651.7,543.7 652.7,542.9 653.7,541.8 654.7,542.5 655.7,542.1 656.7,543.1 657.7,542.9 658.7,543.8 659.7,543.4 660.7,541.4 661.7,542.8 662.7,543.0 663.7,542.4 664.7,542.5 665.7,541.0 666.7,540.4 667.7,541.3 668.7,539.5 669.7,538.3 670.7,540.2 671.7,538.5 672.7,538.4 673.7,537.2 674.7,536.9 675.7,536.7 676.7,537.0 677.7,537.3 678.7,534.9 679.7,537.2 680.7,535.5 681.7,535.5 682.7,537.1 683.7,536.4 684.7,535.1 685.7,538.2 686.7,535.7 687.7,536.7 688.7,536.7 689.7,537.8 690.7,536.1 691.7,537.4 692.7,535.8 693.7,537.5 694.7,535.8 695.7,536.2 696.7,538.2 697.7,536.9 698.7,536.8 699.7,538.7 700.7,537.1 701.7,536.2 702.7,537.6 703.7,536.1 704.7,538.1 705.7,538.3 706.7,536.9 707.7,537.0 708.7,537.8 709.7,537.8 710.7,537.0 711.7,538.4 712.7,536.3 713.7,537.7 714.7,537.8 715.7,538.0 716.7,538.6 717.7,537.3 718.7,538.9 719.7,538.2 720.7,537.8 721.7,537.1 722.7,537.1 723.7,538.1 724.7,536.8 725.7,537.5 726.7,538.2 727.7,538.2 728.7,538.7 729.7,537.2 730.7,536.7 731.7,538.6 732.7,538.2 733.7,539.1 734.7,538.5 735.7,539.7 736.7,539.7 737.7,539.9 738.7,540.0 739.7,540.3 740.7,540.5 741.7,540.8 742.7,541.6 743.7,540.8 744.7,542.8 745.7,541.6 746.7,542.7 747.7,542.0 748.7,542.1 749.7,544.1 750.7,542.2 751.7,541.4 752.7,541.9 753.7,542.2 754.7,544.4 755.7,542.7 756.7,543.3 757.7,541.6 758.7,542.8 759.7,543.1 760.7,544.1 761.7,541.9 762.7,543.0 763.7,542.8 764.7,541.6 765.7,542.5 766.7,542.3 767.7,540.4 768.7,543.0 769.7,543.0 770.7,542.1 771.7,541.3 772.7,543.8 773.7,542.7 774.7,543.4 775.7,543.8 776.7,542.0 777.7,543.2 778.7,542.3 779.7,542.4 780.7,542.4 781.7,542.5 782.7,543.5 783.7,542.6 784.7,542.3 785.7,542.2 786.7,542.7 787.7,541.6 788.7,541.9 789.7,542.2 790.7,541.7 791.7,541.9 792.7,541.4 793.7,543.5 794.7,542.8 795.7,541.9 796.7,541.3 797.7,543.0 798.7,541.3 799.7,540.8 800.7,540.9 801.7,540.6 802.7,541.0 803.7,539.5 804.7,540.0 805.7,537.4 806.7,537.3 807.7,535.3 808.7,535.6 809.7,533.3 810.7,532.2 811.7,531.2 812.7,529.7 813.7,526.9 814.7,525.3 815.7,522.8 816.7,521.2 817.7,518.7 818.7,516.0 819.7,513.1 820.7,509.9 821.7,506.1 822.7,502.2 823.7,496.7 824.7,489.2 825.7,482.2 826.7,475.3 827.7,468.2 828.7,460.3 829.7,453.1 830.7,446.8 831.7,443.3 832.7,440.8 833.7,438.7 834.7,437.6 835.7,436.4 836.7,436.4 837.7,439.7 838.7,443.2 839.7,447.3 840.7,452.1 841.7,458.6 842.7,465.8 843.7,473.6 844.7,481.2 845.7,488.9 846.7,496.3 847.7,503.1 848.7,508.5 849.7,513.1 850.7,517.1 851.7,521.1 852.7,523.6 853.7,525.6 854.7,528.1 855.7,528.8 856.7,530.5 857.7,532.0 858.7,533.2 859.7,533.2 860.7,534.0 861.7,533.5 862.7,535.8 863.7,534.8 864.7,533.2 865.7,534.2 866.7,534.8 867.7,534.6 868.7,535.8 869.7,535.4 870.7,533.7 871.7,534.1 872.7,533.0 873.7,534.4 874.7,534.3 875.7,536.6 876.7,534.3 877.7,532.3 878.7,533.6 879.7,534.3 880.7,533.1 881.7,533.7 882.7,534.4 883.7,535.4 884.7,535.6 885.7,535.8 886.7,537.5 887.7,537.4 888.7,538.0 889.7,538.0 890.7,538.7 891.7,540.1 892.7,538.6 893.7,540.1 894.7,540.9 895.7,540.3 896.7,541.0 897.7,540.2 898.7,542.3 899.7,542.3 900.7,541.8 901.7,540.3 902.7,541.1 903.7,542.9 904.7,543.6 905.7,542.6 906.7,543.5 907.7,542.0 908.7,542.4 909.7,542.7 910.7,543.1 911.7,541.5 912.7,543.7 913.7,544.1 914.7,542.1 915.7,542.0 916.7,543.5 917.7,542.8 918.7,541.4 919.7,544.2 920.7,543.7 921.7,543.2 922.7,545.5 923.7,543.8 924.7,543.1 925.7,543.9 926.7,543.0 927.7,543.3 928.7,544.4 929.7,543.6 930.7,543.7 931.7,545.6 932.7,545.0 933.7,545.0 934.7,544.8 935.7,544.8 936.7,545.7 937.7,544.4 938.7,546.1 939.7,543.6 940.7,544.3 941.7,543.3 942.7,544.2 943.7,545.0 944.7,545.9 945.7,544.0 946.7,544.6 947.7,544.3 948.7,543.9 949.7,543.5 950.7,544.7 951.7,543.0 952.7,544.7 953.7,544.6 954.7,544.0 955.7,543.7 956.7,543.3 957.7,546.3 958.7,543.4 959.7,546.0 960.7,545.1 961.7,544.3 962.7,543.5 963.7,545.5 964.7,546.1 965.7,543.7 966.7,544.3 967.7,545.5 968.7,544.9 969.7,546.3 970.7,544.0 971.7,545.0 972.7,543.4 973.7,546.4 974.7,543.9 975.7,542.5 976.7,544.4 977.7,544.4 978.7,546.2 979.7,544.2 980.7,544.5 981.7,545.0 982.7,545.9 983.7,544.4 984.7,545.4 985.7,544.9 986.7,544.1 987.7,544.5 988.7,544.4 989.7,543.5 990.7,545.4 991.7,543.1 992.7,545.4 993.7,545.2 994.7,544.2 995.7,543.6 996.7,544.1 997.7,544.7 998.7,544.9 999.7,544.5 1000.7,545.0 1001.7,543.6 1002.7,544.2 1003.7,542.6 1004.7,544.4 1005.7,543.8 1006.7,543.2 1007.7,544.3 1008.7,543.8 1009.7,540.8 1010.7,542.9 1011.7,541.5 1012.7,543.4 1013.7,544.4 1014.7,541.8 1015.7,542.1 1016.7,541.7 1017.7,542.0 1018.7,542.1 1019.7,542.4 1020.7,540.4 1021.7,542.2 1022.7,540.0 1023.7,540.7 1024.7,541.1 1025.7,540.4 1026.7,538.9 1027.7,538.8 1028.7,538.6 1029.7,538.5 1030.7,538.9 1031.7,536.8 1032.7,537.4 1033.7,536.7 1034.7,535.7 1035.7,534.5 1036.7,533.6 1037.7,531.6 1038.7,530.2 1039.7,528.3 1040.7,526.9 1041.7,523.3 1042.7,521.6 1043.7,518.0 1044.7,514.6 1045.7,510.8 1046.7,506.9 1047.7,502.9 1048.7,497.8 1049.7,492.9 1050.7,487.4 1051.7,483.5 1052.7,478.6 1053.7,474.2 1054.7,471.4 1055.7,469.6 1056.7,468.2 1057.7,469.2 1058.7,470.8 1059.7,472.3 1060.7,474.5 1061.7,478.2 1062.7,482.1 1063.7,487.3 1064.7,493.3 1065.7,498.8 1066.7,503.9 1067.7,508.3 1068.7,513.0 1069.7,517.5 1070.7,522.2 1071.7,525.2 1072.7,527.9 1073.7,529.6 1074.7,531.7 1075.7,533.9 1076.7,534.4 1077.7,535.7 1078.7,536.4 1079.7,538.1 1080.7,537.5 1081.7,538.0 1082.7,538.4 1083.7,538.9 1084.7,540.7 1085.7,542.6 1086.7,540.5 1087.7,542.3 1088.7,542.1 1089.7,541.4 1090.7,542.2 1091.7,542.4 1092.7,542.1 1093.7,544.5 1094.7,541.1 1095.7,543.1 1096.7,543.0 1097.7,542.2 1098.7,542.8 1099.7,543.3 1100.7,542.6 1101.7,542.8 1102.7,542.9 1103.7,540.5 1104.7,543.3 1105.7,543.8 1106.7,542.6 1107.7,542.5 1108.7,540.3 1109.7,541.2 1110.7,540.5 1111.7,540.5 1112.7,541.5 1113.7,539.9 1114.7,539.9 1115.7,538.1 1116.7,538.4 1117.7,537.6 1118.7,536.2 1119.7,535.3 1120.7,535.8 1121.7,533.2 1122.7,532.6 1123.7,532.2 1124.7,533.4 1125.7,534.2 1126.7,532.8 1127.7,532.4 1128.7,533.0 1129.7,534.6 1130.7,533.9 1131.7,536.1 1132.7,536.8 1133.7,536.8 1134.7,537.9 1135.7,538.7 1136.7,540.0 1137.7,539.0 1138.7,541.0 1139.7,540.8 1140.7,541.3 1141.7,542.6 1142.7,543.2 1143.7,543.3 1144.7,543.3 1145.7,544.0 1146.7,546.1 1147.7,546.6 1148.7,545.6 1149.7,546.2 1150.7,544.8 1151.7,545.3 1152.7,545.7 1153.7,544.6 1154.7,544.8 1155.7,545.8 1156.7,545.5 1157.7,544.9 1158.7,546.2 1159.7,545.7 1160.7,546.9 1161.7,546.1 1162.7,545.9 1163.7,546.3 1164.7,546.1 1165.7,545.7 1166.7,546.0 1167.7,547.0 1168.7,547.0 1169.7,547.6 1170.7,545.0 1171.7,546.2 1172.7,546.2 1173.7,546.7 1174.7,546.2 1175.7,546.2 1176.7,547.4 1177.7,546.8 1178.7,545.7 1179.7,547.9 1180.7,547.6 1181.7,546.3 1182.7,547.5 1183.7,546.2 1184.7,547.8 1185.7,546.7 1186.7,546.2 1187.7,546.6 1188.7,546.2 1189.7,547.1 1190.7,547.1 1191.7,547.0 1192.7,546.5 1193.7,543.8 1194.7,547.1 1195.7,545.4 1196.7,547.3 1197.7,548.1 1198.7,547.4 1199.7,546.8 1200.7,547.0 1201.7,547.1 1202.7,546.7 1203.7,546.7 1204.7,546.4 1205.7,548.3 1206.7,547.3 1207.7,548.1 1208.7,547.1 1209.7,547.4 1210.7,547.2 1211.7,547.8 1212.7,548.1 1213.7,547.6 1214.7,546.8 1215.7,546.7 1216.7,548.9 1217.7,547.2 1218.7,547.2 1219.7,548.8 1220.7,548.5 1221.7,548.0 1222.7,547.2 1223.7,549.7 1224.7,547.9 1225.7,548.1 1226.7,547.4 1227.7,546.3 1228.7,546.4 1229.7,548.0 1230.7,548.0 1231.7,547.5 1232.7,546.6 1233.7,546.4 1234.7,547.4 1235.7,546.4 1236.7,548.5 1237.7,548.8 1238.7,550.3 1239.7,548.5 1240.7,547.2 1241.7,547.0 1242.7,544.7 1243.7,547.3 1244.7,547.7 1245.7,548.7 1246.7,548.4 1247.7,548.4 1248.7,548.0 1249.7,548.5 1250.7,549.2 1251.7,546.9 1252.7,547.5 1253.7,546.7 1254.7,549.4 1255.7,549.1 1256.7,548.6 1257.7,546.9 1258.7,548.1 1259.7,547.7 1260.7,548.0 1261.7,547.8 1262.7,548.4 1263.7,547.6 1264.7,548.7 1265.7,548.2 1266.7,547.7 1267.7,547.9 1268.7,547.6 1269.7,548.7 1270.7,547.7 1271.7,548.3 1272.7,547.6 1273.7,546.7 1274.7,548.8 1275.7,547.0 1276.7,548.6 1277.7,548.4 1278.7,546.5 1279.7,547.1 1280.7,547.5 1281.7,547.3 1282.7,546.9 1283.7,548.6 1284.7,547.8 1285.7,548.3 1286.7,547.6 1287.7,548.2 1288.7,547.2 1289.7,547.9 1290.7,548.4 1291.7,547.9 1292.7,547.5 1293.7,546.9 1294.7,548.0 1295.7,548.1 1296.7,547.6 1297.7,547.1 1298.7,548.2 1299.7,549.9 1300.7,547.4 1301.7,548.0 1302.7,548.0 1303.7,545.4 1304.7,547.7 1305.7,546.9 1306.7,548.8 1307.7,547.3 1308.7,546.8 1309.7,547.3 1310.7,547.6 1311.7,546.9 1312.7,547.3 1313.7,546.1 1314.7,547.1 1315.7,547.9 1316.7,548.9 1317.7,547.8 1318.7,547.3 1319.7,548.1 1320.7,547.9 1321.7,548.4 1322.7,547.8 1323.7,546.8 1324.7,547.0 1325.7,546.9 1326.7,547.0 1327.7,546.8 1328.7,545.9 1329.7,544.7 1330.7,545.9 1331.7,544.6 1332.7,546.4 1333.7,546.3 1334.7,544.7 1335.7,546.7 1336.7,546.8 1337.7,546.0 1338.7,547.3 1339.7,547.4 1340.7,544.7 1341.7,546.5 1342.7,545.9 1343.7,545.8 1344.7,546.2 1345.7,544.7 1346.7,544.7 1347.7,544.4 1348.7,544.4 1349.7,544.8 1350.7,543.6 1351.7,543.8 1352.7,545.1 1353.7,544.4 1354.7,544.7 1355.7,542.7 1356.7,543.5 1357.7,543.6 1358.7,543.9 1359.7,543.3 1360.7,544.4 1361.7,543.5 1362.7,543.4 1363.7,543.3 1364.7,543.6 1365.7,542.4 1366.7,543.2 1367.7,542.3 1368.7,541.6 1369.7,541.0 1370.7,540.9 1371.7,540.7 1372.7,540.1 1373.7,539.3 1374.7,539.2 1375.7,538.1 1376.7,538.3 1377.7,536.9 1378.7,535.0 1379.7,536.6 1380.7,535.2 1381.7,533.9 1382.7,534.2 1383.7,533.4 1384.7,536.0 1385.7,534.6 1386.7,533.2 1387.7,535.1 1388.7,534.8 1389.7,536.9 1390.7,535.2 1391.7,534.8 1392.7,536.8 1393.7,537.0 1394.7,537.4 1395.7,536.8 1396.7,539.0 1397.7,540.4 1398.7,538.7 1399.7,541.2"/><path stroke="#A000FF" d="M141.7,706.7L142.7,705.9 143.7,697.1 144.7,684.5 145.7,685.1 146.7,690.0 147.7,696.4 148.7,704.1 149.7,713.9 150.7,722.4 151.7,727.4 152.7,728.0 153.7,728.8 154.7,730.1 155.7,729.7 156.7,730.6 157.7,731.8 158.7,732.5 159.7,733.3 160.7,734.3 161.7,732.2 162.7,729.5 163.7,726.2 164.7,723.2 165.7,723.8 166.7,724.0 167.7,726.7 168.7,732.0 169.7,737.0 170.7,737.3 171.7,738.6 172.7,738.3 173.7,739.7 174.7,739.1 175.7,738.7 176.7,739.3 177.7,737.5 178.7,734.8 179.7,732.8 180.7,729.9 181.7,728.0 182.7,727.3 183.7,727.3 184.7,729.5 185.7,731.8 186.7,733.9 187.7,733.7 188.7,731.9 189.7,732.5 190.7,730.8 191.7,730.6 192.7,730.8 193.7,730.3 194.7,732.1 195.7,731.5 196.7,731.6 197.7,733.9 198.7,734.7 199.7,736.9 200.7,738.1 201.7,741.5 202.7,742.6 203.7,742.9 204.7,743.1 205.7,743.7 206.7,742.2 207.7,743.0 208.7,741.5 209.7,741.9 210.7,743.0 211.7,742.2 212.7,740.5 213.7,740.9 214.7,739.7 215.7,738.5 216.7,738.4 217.7,737.1 218.7,735.7 219.7,735.6 220.7,738.0 221.7,735.2 222.7,736.8 223.7,737.3 224.7,737.6 225.7,736.5 226.7,737.4 227.7,738.1 228.7,738.8 229.7,737.9 230.7,737.6 231.7,739.4 232.7,738.8 233.7,737.2 234.7,735.0 235.7,733.4 236.7,731.2 237.7,729.8 238.7,727.5 239.7,727.9 240.7,728.5 241.7,729.9 242.7,732.8 243.7,735.2 244.7,737.3 245.7,739.2 246.7,738.7 247.7,740.0 248.7,740.7 249.7,740.9 250.7,741.7 251.7,740.2 252.7,740.3 253.7,741.9 254.7,742.5 255.7,744.3 256.7,744.8 257.7,744.3 258.7,745.4 259.7,743.8 260.7,742.8 261.7,744.0 262.7,741.6 263.7,740.0 264.7,735.0 265.7,728.6 266.7,722.3 267.7,719.5 268.7,717.2 269.7,715.8 270.7,716.3 271.7,715.6 272.7,714.4 273.7,713.8 274.7,713.6 275.7,713.1 276.7,715.0 277.7,714.9 278.7,715.5 279.7,718.4 280.7,723.1 281.7,727.9 282.7,731.5 283.7,731.3 284.7,724.7 285.7,715.6 286.7,709.5 287.7,705.0 288.7,701.3 289.7,698.8 290.7,698.1 291.7,700.6 292.7,706.7 293.7,711.8 294.7,714.2 295.7,712.8 296.7,707.6 297.7,705.3 298.7,707.7 299.7,705.6 300.7,705.6 301.7,704.4 302.7,706.2 303.7,712.0 304.7,719.3 305.7,724.8 306.7,726.2 307.7,726.8 308.7,726.4 309.7,726.3 310.7,726.5 311.7,728.1 312.7,727.8 313.7,728.3 314.7,726.4 315.7,722.7 316.7,719.4 317.7,716.0 318.7,715.6 319.7,713.4 320.7,711.4 321.7,709.8 322.7,711.1 323.7,712.0 324.7,714.9 325.7,718.1 326.7,719.7 327.7,721.3 328.7,723.8 329.7,724.5 330.7,726.2 331.7,725.9 332.7,725.5 333.7,726.2 334.7,724.7 335.7,725.9 336.7,723.6 337.7,724.0 338.7,721.4 339.7,719.1 340.7,713.5 341.7,707.0 342.7,700.4 343.7,693.8 344.7,686.2 345.7,678.6 346.7,669.7 347.7,660.5 348.7,650.4 349.7,638.6 350.7,624.7 351.7,610.6 352.7,596.8 353.7,583.7 354.7,572.0 355.7,565.9 356.7,562.9 357.7,566.2 358.7,569.5 359.7,575.4 360.7,585.2 361.7,601.1 362.7,617.4 363.7,630.7 364.7,643.4 365.7,655.1 366.7,665.9 367.7,675.7 368.7,684.8 369.7,691.3 370.7,696.6 371.7,700.9 372.7,703.5 373.7,702.9 374.7,700.2 375.7,697.4 376.7,695.4 377.7,696.0 378.7,698.5 379.7,700.4 380.7,702.2 381.7,703.3 382.7,702.8 383.7,703.0 384.7,703.9 385.7,704.3 386.7,704.1 387.7,706.5 388.7,718.6 389.7,721.8 390.7,724.6 391.7,727.3 392.7,727.7 393.7,729.9 394.7,731.1 395.7,732.4 396.7,732.8 397.7,735.6 398.7,736.4 399.7,737.7 400.7,739.0 401.7,740.5 402.7,740.7 403.7,740.5 404.7,741.4 405.7,739.5 406.7,738.8 407.7,739.1 408.7,738.3 409.7,737.6 410.7,735.4 411.7,734.5 412.7,731.8 413.7,729.5 414.7,725.8 415.7,724.0 416.7,722.3 417.7,720.7 418.7,721.4 419.7,723.0 420.7,721.6 421.7,721.5 422.7,721.0 423.7,717.5 424.7,713.7 425.7,710.5 426.7,710.7 427.7,712.1 428.7,712.8 429.7,714.6 430.7,717.3 431.7,721.9 432.7,726.7 433.7,729.2 434.7,729.4 435.7,727.9 436.7,725.6 437.7,723.4 438.7,721.3 439.7,719.3 440.7,718.0 441.7,716.1 442.7,716.3 443.7,717.6 444.7,721.8 445.7,725.7 446.7,730.0 447.7,734.1 448.7,737.1 449.7,738.0 450.7,739.6 451.7,740.7 452.7,742.5 453.7,742.3 454.7,742.1 455.7,741.6 456.7,740.9 457.7,739.8 458.7,737.6 459.7,735.6 460.7,732.4 461.7,730.1 462.7,726.2 463.7,720.9 464.7,714.9 465.7,710.3 466.7,708.1 467.7,706.0 468.7,703.5 469.7,702.0 470.7,700.2 471.7,699.5 472.7,699.6 473.7,701.6 474.7,703.0 475.7,704.9 476.7,707.3 477.7,711.4 478.7,716.2 479.7,721.0 480.7,725.7 481.7,729.0 482.7,732.5 483.7,736.0 484.7,738.0 485.7,738.6 486.7,739.7 487.7,739.2 488.7,740.0 489.7,739.5 490.7,742.3 491.7,741.6 492.7,744.3 493.7,745.4 494.7,747.0 495.7,748.7 496.7,749.7 497.7,750.5 498.7,751.8 499.7,751.3 500.7,752.0 501.7,751.3 502.7,752.5 503.7,752.3 504.7,751.8 505.7,752.0 506.7,751.4 507.7,750.8 508.7,750.3 509.7,749.1 510.7,748.3 511.7,748.4 512.7,746.2 513.7,744.5 514.7,742.0 515.7,737.6 516.7,736.5 517.7,737.7 518.7,739.5 519.7,744.3 520.7,746.2 521.7,750.4 522.7,754.0 523.7,756.9 524.7,758.3 525.7,759.2 526.7,758.8 527.7,760.5 528.7,759.4 529.7,760.4 530.7,761.6 531.7,760.2 532.7,761.0 533.7,761.6 534.7,760.4 535.7,762.7 536.7,762.0 537.7,760.4 538.7,761.4 539.7,760.3 540.7,759.6 541.7,759.1 542.7,757.7 543.7,757.6 544.7,755.8 545.7,756.1 546.7,754.9 547.7,754.9 548.7,753.5 549.7,753.0 550.7,752.1 551.7,752.8 552.7,752.5 553.7,752.9 554.7,751.8 555.7,750.6 556.7,749.7 557.7,749.5 558.7,748.8 559.7,749.5 560.7,749.0 561.7,747.6 562.7,748.2 563.7,750.2 564.7,750.6 565.7,751.4 566.7,753.3 567.7,753.5 568.7,754.5 569.7,755.4 570.7,755.6 571.7,758.1 572.7,758.0 573.7,759.3 574.7,760.1 575.7,761.7 576.7,761.6 577.7,762.0 578.7,761.0 579.7,762.4 580.7,761.6 581.7,763.2 582.7,763.4 583.7,763.3 584.7,765.1 585.7,764.0 586.7,764.2 587.7,764.0 588.7,763.9 589.7,765.0 590.7,765.3 591.7,763.5 592.7,765.6 593.7,765.3 594.7,765.8 595.7,765.6 596.7,764.3 597.7,764.5 598.7,767.1 599.7,765.9 600.7,764.6 601.7,766.1 602.7,765.6 603.7,764.2 604.7,763.8 605.7,764.5 606.7,766.1 607.7,765.8 608.7,765.6 609.7,766.1 610.7,766.3 611.7,763.9 612.7,765.4 613.7,764.9 614.7,764.5 615.7,765.1 616.7,765.4 617.7,765.2 618.7,764.1 619.7,764.8 620.7,766.9 621.7,764.2 622.7,763.6 623.7,765.1 624.7,765.3 625.7,764.9 626.7,763.4 627.7,764.4 628.7,762.7 629.7,761.9 630.7,761.7 631.7,761.5 632.7,761.7 633.7,761.3 634.7,760.7 635.7,761.5 636.7,760.9 637.7,761.8 638.7,760.3 639.7,760.4 640.7,762.5 641.7,761.2 642.7,762.2 643.7,762.6 644.7,762.4 645.7,762.4 646.7,764.0 647.7,760.5 648.7,763.3 649.7,764.3 650.7,762.3 651.7,762.1 652.7,762.5 653.7,763.1 654.7,760.5 655.7,761.3 656.7,760.8 657.7,761.2 658.7,760.6 659.7,760.7 660.7,759.5 661.7,759.5 662.7,758.6 663.7,758.2 664.7,758.1 665.7,757.7 666.7,756.5 667.7,757.9 668.7,756.3 669.7,754.9 670.7,756.0 671.7,754.2 672.7,754.4 673.7,753.4 674.7,752.8 675.7,752.0 676.7,750.8 677.7,750.0 678.7,749.4 679.7,745.9 680.7,745.5 681.7,744.8 682.7,743.2 683.7,743.1 684.7,746.1 685.7,744.7 686.7,746.8 687.7,746.4 688.7,746.7 689.7,747.5 690.7,748.1 691.7,748.9 692.7,748.6 693.7,748.3 694.7,748.3 695.7,749.1 696.7,748.5 697.7,746.8 698.7,746.9 699.7,747.6 700.7,746.7 701.7,746.9 702.7,747.1 703.7,748.3 704.7,749.7 705.7,751.0 706.7,751.1 707.7,752.9 708.7,750.6 709.7,750.8 710.7,748.4 711.7,747.6 712.7,747.2 713.7,746.9 714.7,749.5 715.7,750.9 716.7,752.9 717.7,751.3 718.7,753.6 719.7,751.5 720.7,751.0 721.7,748.1 722.7,748.1 723.7,746.6 724.7,746.2 725.7,745.3 726.7,744.3 727.7,746.2 728.7,747.0 729.7,748.2 730.7,749.9 731.7,751.6 732.7,752.8 733.7,753.8 734.7,755.2 735.7,757.7 736.7,758.1 737.7,758.1 738.7,758.0 739.7,758.7 740.7,759.0 741.7,758.9 742.7,758.9 743.7,761.3 744.7,760.0 745.7,759.5 746.7,759.2 747.7,759.8 748.7,761.2 749.7,761.4 750.7,760.9 751.7,761.4 752.7,761.4 753.7,761.0 754.7,763.1 755.7,762.7 756.7,764.6 757.7,762.1 758.7,762.7 759.7,763.6 760.7,762.6 761.7,761.5 762.7,761.8 763.7,762.7 764.7,762.7 765.7,762.2 766.7,763.0 767.7,762.9 768.7,762.2 769.7,761.8 770.7,761.3 771.7,761.7 772.7,761.6 773.7,760.6 774.7,760.4 775.7,759.4 776.7,758.2 777.7,757.9 778.7,758.7 779.7,758.0 780.7,758.4 781.7,757.0 782.7,757.3 783.7,757.5 784.7,757.2 785.7,755.8 786.7,756.5 787.7,757.1 788.7,757.1 789.7,758.7 790.7,759.8 791.7,759.8 792.7,762.0 793.7,761.3 794.7,761.9 795.7,762.2 796.7,761.9 797.7,762.8 798.7,762.3 799.7,763.2 800.7,762.1 801.7,761.6 802.7,760.6 803.7,759.3 804.7,759.6 805.7,758.5 806.7,759.1 807.7,757.9 808.7,758.2 809.7,756.9 810.7,756.1 811.7,754.8 812.7,753.7 813.7,752.6 814.7,751.3 815.7,749.0 816.7,747.2 817.7,744.8 818.7,740.6 819.7,736.7 820.7,732.4 821.7,726.9 822.7,721.1 823.7,714.2 824.7,707.9 825.7,701.9 826.7,695.6 827.7,688.7 828.7,683.2 829.7,678.0 830.7,673.3 831.7,669.2 832.7,666.7 833.7,666.2 834.7,665.4 835.7,666.5 836.7,668.9 837.7,672.2 838.7,676.9 839.7,682.3 840.7,689.6 841.7,697.3 842.7,704.7 843.7,710.6 844.7,716.2 845.7,721.2 846.7,726.2 847.7,730.4 848.7,733.6 849.7,737.9 850.7,741.8 851.7,744.9 852.7,746.7 853.7,748.9 854.7,747.4 855.7,746.9 856.7,747.0 857.7,748.0 858.7,748.9 859.7,749.1 860.7,748.2 861.7,746.9 862.7,747.4 863.7,747.2 864.7,747.8 865.7,746.4 866.7,748.1 867.7,748.6 868.7,747.8 869.7,748.1 870.7,746.8 871.7,746.1 872.7,746.4 873.7,747.4 874.7,746.9 875.7,745.5 876.7,746.0 877.7,744.2 878.7,744.6 879.7,743.4 880.7,742.4 881.7,743.7 882.7,743.7 883.7,745.0 884.7,746.3 885.7,748.6 886.7,749.8 887.7,750.8 888.7,751.3 889.7,753.1 890.7,752.4 891.7,752.7 892.7,754.6 893.7,755.1 894.7,754.8 895.7,753.7 896.7,754.9 897.7,756.1 898.7,755.9 899.7,757.4 900.7,755.3 901.7,757.1 902.7,756.2 903.7,758.0 904.7,757.0 905.7,758.0 906.7,756.7 907.7,756.2 908.7,756.6 909.7,757.1 910.7,756.9 911.7,758.8 912.7,759.1 913.7,758.3 914.7,757.4 915.7,758.3 916.7,758.1 917.7,760.0 918.7,759.3 919.7,759.7 920.7,759.3 921.7,758.3 922.7,759.5 923.7,759.5 924.7,760.9 925.7,761.0 926.7,760.5 927.7,761.1 928.7,762.9 929.7,761.1 930.7,761.3 931.7,762.0 932.7,761.7 933.7,762.1 934.7,762.9 935.7,764.1 936.7,760.9 937.7,762.5 938.7,762.5 939.7,762.3 940.7,762.2 941.7,762.0 942.7,763.0 943.7,761.7 944.7,761.9 945.7,761.9 946.7,761.8 947.7,761.5 948.7,762.3 949.7,761.4 950.7,761.4 951.7,761.0 952.7,760.1 953.7,760.1 954.7,759.8 955.7,760.7 956.7,759.8 957.7,759.4 958.7,760.2 959.7,760.1 960.7,758.1 961.7,760.4 962.7,758.9 963.7,758.5 964.7,759.0 965.7,758.0 966.7,757.2 967.7,759.0 968.7,756.2 969.7,756.7 970.7,757.3 971.7,755.6 972.7,756.3 973.7,756.7 974.7,758.3 975.7,755.9 976.7,757.0 977.7,758.0 978.7,758.3 979.7,758.3 980.7,760.0 981.7,760.6 982.7,761.6 983.7,762.8 984.7,763.3 985.7,763.4 986.7,763.7 987.7,762.5 988.7,763.4 989.7,763.7 990.7,763.1 991.7,763.5 992.7,762.7 993.7,764.7 994.7,765.2 995.7,763.0 996.7,763.6 997.7,763.0 998.7,764.3 999.7,763.5 1000.7,763.1 1001.7,762.8 1002.7,763.0 1003.7,762.0 1004.7,763.4 1005.7,762.1 1006.7,763.1 1007.7,762.7 1008.7,763.4 1009.7,762.4 1010.7,763.2 1011.7,761.4 1012.7,762.6 1013.7,761.8 1014.7,762.0 1015.7,761.7 1016.7,762.2 1017.7,759.7 1018.7,761.4 1019.7,759.7 1020.7,761.6 1021.7,758.9 1022.7,759.4 1023.7,758.7 1024.7,760.9 1025.7,758.4 1026.7,759.2 1027.7,758.4 1028.7,757.1 1029.7,757.8 1030.7,758.1 1031.7,757.0 1032.7,757.0 1033.7,755.5 1034.7,754.9 1035.7,753.7 1036.7,753.1 1037.7,752.6 1038.7,750.3 1039.7,748.3 1040.7,745.7 1041.7,743.1 1042.7,741.0 1043.7,737.3 1044.7,733.8 1045.7,729.7 1046.7,724.8 1047.7,720.5 1048.7,714.8 1049.7,711.4 1050.7,707.9 1051.7,703.9 1052.7,701.2 1053.7,700.0 1054.7,699.7 1055.7,697.4 1056.7,697.3 1057.7,699.8 1058.7,701.4 1059.7,703.0 1060.7,705.8 1061.7,710.3 1062.7,713.7 1063.7,718.3 1064.7,722.3 1065.7,726.3 1066.7,729.9 1067.7,733.9 1068.7,737.3 1069.7,739.6 1070.7,742.9 1071.7,746.5 1072.7,747.9 1073.7,749.2 1074.7,751.5 1075.7,752.9 1076.7,754.3 1077.7,755.2 1078.7,756.2 1079.7,756.8 1080.7,757.9 1081.7,757.7 1082.7,758.6 1083.7,759.3 1084.7,760.8 1085.7,760.6 1086.7,760.7 1087.7,761.6 1088.7,761.9 1089.7,762.7 1090.7,762.6 1091.7,763.9 1092.7,763.7 1093.7,762.8 1094.7,762.6 1095.7,763.8 1096.7,763.5 1097.7,762.9 1098.7,761.6 1099.7,761.2 1100.7,762.8 1101.7,762.9 1102.7,762.7 1103.7,760.8 1104.7,762.3 1105.7,760.8 1106.7,761.2 1107.7,761.0 1108.7,759.8 1109.7,759.7 1110.7,758.3 1111.7,758.7 1112.7,757.7 1113.7,758.8 1114.7,758.1 1115.7,758.3 1116.7,757.5 1117.7,756.4 1118.7,756.7 1119.7,755.9 1120.7,756.4 1121.7,756.0 1122.7,754.8 1123.7,755.8 1124.7,756.3 1125.7,756.8 1126.7,758.3 1127.7,759.8 1128.7,759.7 1129.7,760.8 1130.7,760.5 1131.7,762.5 1132.7,762.7 1133.7,761.6 1134.7,763.7 1135.7,764.2 1136.7,763.4 1137.7,763.8 1138.7,763.5 1139.7,765.1 1140.7,763.4 1141.7,764.5 1142.7,766.5 1143.7,765.1 1144.7,765.6 1145.7,765.2 1146.7,764.4 1147.7,765.5 1148.7,766.0 1149.7,764.9 1150.7,766.1 1151.7,767.0 1152.7,766.9 1153.7,764.9 1154.7,765.5 1155.7,765.1 1156.7,767.4 1157.7,767.2 1158.7,767.5 1159.7,766.4 1160.7,766.3 1161.7,767.5 1162.7,767.7 1163.7,767.1 1164.7,768.1 1165.7,768.7 1166.7,768.6 1167.7,767.8 1168.7,767.1 1169.7,768.8 1170.7,769.3 1171.7,769.1 1172.7,769.1 1173.7,769.1 1174.7,770.4 1175.7,769.8 1176.7,770.1 1177.7,769.2 1178.7,769.6 1179.7,770.3 1180.7,769.3 1181.7,769.1 1182.7,769.9 1183.7,771.2 1184.7,770.3 1185.7,771.4 1186.7,770.0 1187.7,769.8 1188.7,768.8 1189.7,769.4 1190.7,771.1 1191.7,770.1 1192.7,770.4 1193.7,770.3 1194.7,769.6 1195.7,769.4 1196.7,769.6 1197.7,770.0 1198.7,769.8 1199.7,769.8 1200.7,769.4 1201.7,768.5 1202.7,768.9 1203.7,768.3 1204.7,769.9 1205.7,767.2 1206.7,768.7 1207.7,770.9 1208.7,768.5 1209.7,767.8 1210.7,768.7 1211.7,769.7 1212.7,768.4 1213.7,769.0 1214.7,768.5 1215.7,768.0 1216.7,771.0 1217.7,768.3 1218.7,767.7 1219.7,767.7 1220.7,768.4 1221.7,768.4 1222.7,768.6 1223.7,768.0 1224.7,766.6 1225.7,768.3 1226.7,767.6 1227.7,767.6 1228.7,766.5 1229.7,767.3 1230.7,767.2 1231.7,767.8 1232.7,766.7 1233.7,768.0 1234.7,768.2 1235.7,767.3 1236.7,767.8 1237.7,767.7 1238.7,769.3 1239.7,766.6 1240.7,768.6 1241.7,767.6 1242.7,768.8 1243.7,770.0 1244.7,768.9 1245.7,769.7 1246.7,769.0 1247.7,771.4 1248.7,770.7 1249.7,771.0 1250.7,768.9 1251.7,769.2 1252.7,771.1 1253.7,770.0 1254.7,770.0 1255.7,770.5 1256.7,769.1 1257.7,770.9 1258.7,770.2 1259.7,770.6 1260.7,769.6 1261.7,770.7 1262.7,769.6 1263.7,771.1 1264.7,771.2 1265.7,771.0 1266.7,770.7 1267.7,770.8 1268.7,767.8 1269.7,771.0 1270.7,770.0 1271.7,770.3 1272.7,769.9 1273.7,768.9 1274.7,769.7 1275.7,770.8 1276.7,771.5 1277.7,769.6 1278.7,769.4 1279.7,771.5 1280.7,769.4 1281.7,772.0 1282.7,770.2 1283.7,769.3 1284.7,770.9 1285.7,771.5 1286.7,768.7 1287.7,771.2 1288.7,769.6 1289.7,771.1 1290.7,769.4 1291.7,768.3 1292.7,770.0 1293.7,770.3 1294.7,771.3 1295.7,770.9 1296.7,769.9 1297.7,769.1 1298.7,768.7 1299.7,768.9 1300.7,768.4 1301.7,768.8 1302.7,766.8 1303.7,769.1 1304.7,768.8 1305.7,771.0 1306.7,769.4 1307.7,768.3 1308.7,769.1 1309.7,767.5 1310.7,768.0 1311.7,766.8 1312.7,769.6 1313.7,768.8 1314.7,767.2 1315.7,768.1 1316.7,768.9 1317.7,768.5 1318.7,768.3 1319.7,767.2 1320.7,767.4 1321.7,768.0 1322.7,768.7 1323.7,767.1 1324.7,766.8 1325.7,768.8 1326.7,767.0 1327.7,768.8 1328.7,768.1 1329.7,768.7 1330.7,769.5 1331.7,768.6 1332.7,768.7 1333.7,767.4 1334.7,767.6 1335.7,768.8 1336.7,769.7 1337.7,769.6 1338.7,770.5 1339.7,768.8 1340.7,768.7 1341.7,769.4 1342.7,768.5 1343.7,768.4 1344.7,767.5 1345.7,769.3 1346.7,767.5 1347.7,768.8 1348.7,767.1 1349.7,769.2 1350.7,767.3 1351.7,768.9 1352.7,766.7 1353.7,767.6 1354.7,768.9 1355.7,767.1 1356.7,767.8 1357.7,767.3 1358.7,765.6 1359.7,767.7 1360.7,767.7 1361.7,766.3 1362.7,767.6 1363.7,766.4 1364.7,766.0 1365.7,766.6 1366.7,765.8 1367.7,767.6 1368.7,764.4 1369.7,765.6 1370.7,765.4 1371.7,762.9 1372.7,762.6 1373.7,763.7 1374.7,762.5 1375.7,762.6 1376.7,762.7 1377.7,761.2 1378.7,760.3 1379.7,758.6 1380.7,760.1 1381.7,758.8 1382.7,759.3 1383.7,759.0 1384.7,757.5 1385.7,759.6 1386.7,758.9 1387.7,758.5 1388.7,756.7 1389.7,757.4 1390.7,757.5 1391.7,758.0 1392.7,758.0 1393.7,759.6 1394.7,760.1 1395.7,761.1 1396.7,761.7 1397.7,763.7 1398.7,764.0 1399.7,762.9"/></g><g font-family="Liberation Serif" font-weight="bold" font-size="57"><text x="141.7" y="1418" text-anchor="middle">20</text><text x="393.4" y="1418" text-anchor="middle">30</text><text x="645.0" y="1418" text-anchor="middle">40</text><text x="896.7" y="1418" text-anchor="middle">50</text><text x="1148.3" y="1418" text-anchor="middle">60</text><text x="1400.0" y="1418" text-anchor="middle">70</text></g><text font-family="Liberation Serif" font-weight="bold" font-size="57" x="770" y="1492" text-anchor="middle">2θ (degree)</text><text font-family="Liberation Serif" font-weight="bold" font-size="57" transform="translate(81,723) rotate(-90)" text-anchor="middle">Intensity (a.u.)</text><g font-family="Liberation Serif" font-weight="bold" font-size="57"><text x="290" y="83" text-anchor="middle" letter-spacing="1.8">(111)</text><text x="481" y="229.3" text-anchor="middle">(200)</text><text x="840.5" y="175.2" text-anchor="middle">(220)</text><text x="1063.3" y="205.5" text-anchor="middle" letter-spacing="1.2">(311)</text><text x="1387.5" y="287.5" text-anchor="end" fill="#0000A8">pH 12</text><text x="1392.5" y="529.1" text-anchor="end" fill="#008A00">pH 10</text><text x="1377.5" y="752" text-anchor="end" fill="#A000FF">pH 8</text><text x="779" y="823" fill="#FF00FF">CeO<tspan font-size="33.5" dy="22">2</tspan><tspan dy="-22"> (PDF: 00-004-0593)</tspan></text><text x="710.5" y="1001.5" fill="#888800">Ce<tspan font-size="33.5" dy="22">4</tspan><tspan dy="-22">O</tspan><tspan font-size="33.5" dy="22">4</tspan><tspan dy="-22">S</tspan><tspan font-size="33.5" dy="22">3</tspan><tspan dy="-22"> (PDF: 01-070-1342)</tspan></text><text x="663.5" y="1206" fill="#FF8800">Ce<tspan font-size="33.5" dy="22">2</tspan><tspan dy="-22">(SO</tspan><tspan font-size="33.5" dy="22">4</tspan><tspan dy="-22">)</tspan><tspan font-size="33.5" dy="22">3</tspan><tspan dy="-22"> (PDF: 00-052-1494)</tspan></text></g></svg></body></html>
